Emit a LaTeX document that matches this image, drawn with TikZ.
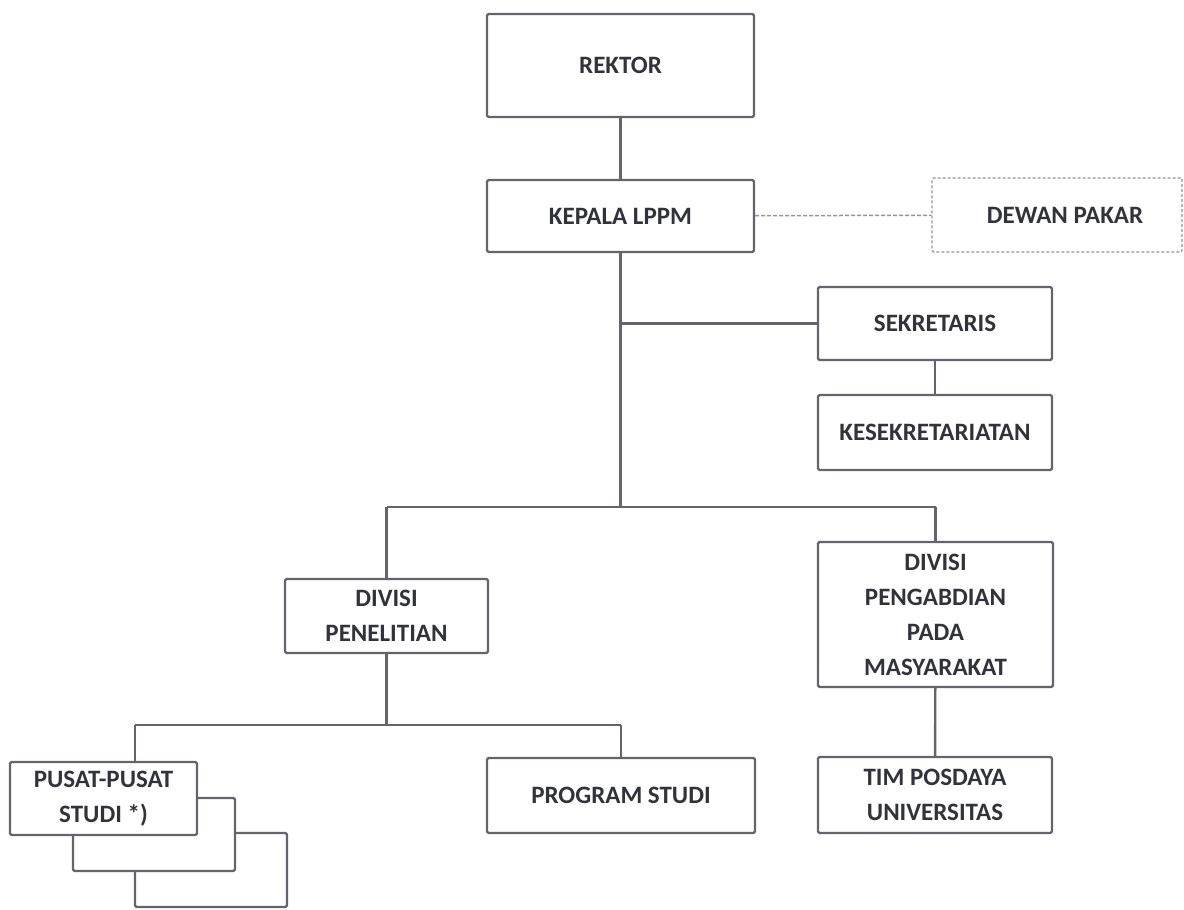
\documentclass[tikz,border=0pt]{standalone}
\usepackage{fontspec}
\setmainfont{Carlito}
\usetikzlibrary{positioning}
\definecolor{linegray}{RGB}{100,100,112}
\definecolor{textgray}{RGB}{50,50,60}
\tikzset{
  orgbox/.style={draw=linegray, line width=2.4pt, fill=white, rounded corners=1.5pt,
    align=center, text=textgray, inner sep=0pt,
    font=\fontsize{25}{35}\selectfont\bfseries},
  dashbox/.style={orgbox, draw=linegray!70, line width=1.2pt, dash pattern=on 3pt off 2pt},
  link/.style={draw=linegray, line width=2.4pt},
  dashlink/.style={draw=linegray!70, line width=1.5pt, dash pattern=on 4pt off 2pt}
}
\begin{document}
\begin{tikzpicture}[x=1pt, y=-1pt]
	\useasboundingbox (0,0) rectangle (1184,910);
	
	% Top
	\node[orgbox, minimum width=267, minimum height=103] (rektor) at (620.5,65.5) {REKTOR};
	\node[orgbox, minimum width=267, minimum height=72] (kepala) at (620.5,216) {KEPALA LPPM};
	\node[dashbox, minimum width=250, minimum height=74] (dewan) at (1057,215) {\hspace*{16pt}DEWAN PAKAR};
	
	% Secretariat
	\node[orgbox, minimum width=234, minimum height=73] (sekretaris) at (935,323.5) {SEKRETARIS};
	\node[orgbox, minimum width=234, minimum height=75] (kesekretariatan) at (935,432.5) {KESEKRETARIATAN};
	
	% Divisions
	\node[orgbox, minimum width=203, minimum height=74] (penelitian) at (386.5,616) {DIVISI\\PENELITIAN};
	\node[orgbox, minimum width=235, minimum height=145] (pengabdian) at (935.5,614.5) {DIVISI\\PENGABDIAN\\PADA\\MASYARAKAT};
	
	% Units
	\node[orgbox, minimum width=152, minimum height=74] (pusatc) at (211,870) {};
	\node[orgbox, minimum width=162, minimum height=73] (pusatb) at (154,834.5) {};
	\node[orgbox, minimum width=187, minimum height=73] (pusat) at (103.5,798.5) {PUSAT-PUSAT\\STUDI *)};
	\node[orgbox, minimum width=268, minimum height=75] (prodi) at (621,795.5) {PROGRAM STUDI};
	\node[orgbox, minimum width=234, minimum height=76] (posdaya) at (935,795) {TIM POSDAYA\\UNIVERSITAS};
	
	% Junctions
	\coordinate (bar) at (620.5,507);
	\coordinate (barl) at (386.5,507);
	\coordinate (barr) at (935.5,507);
	\coordinate (sub) at (386.5,725);
	\coordinate (subl) at (135,725);
	\coordinate (subr) at (621,725);
	
	% Connectors
	\draw[link] (rektor) -- (kepala);
	\draw[dashlink] (kepala) -- (dewan);
	\draw[link] (kepala.south) -- (bar);
	\draw[link] (kepala.south |- sekretaris.west) -- (sekretaris.west);
	\draw[link] (sekretaris) -- (kesekretariatan);
	\draw[link] (barl) -- (barr);
	\draw[link] (barl) -- (penelitian.north);
	\draw[link] (barr) -- (pengabdian.north);
	\draw[link] (pengabdian) -- (posdaya);
	\draw[link] (penelitian.south) -- (sub);
	\draw[link] (subl) -- (subr);
	\draw[link] (subl) -- (subl |- pusat.north);
	\draw[link] (subr) -- (prodi.north);
\end{tikzpicture}
\end{document}
